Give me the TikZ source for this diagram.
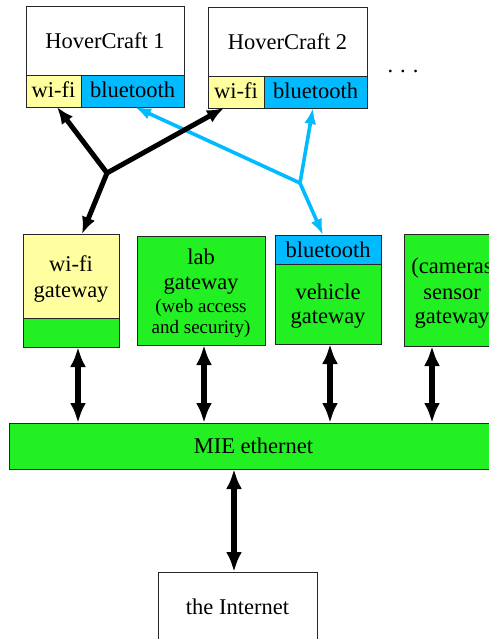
\documentclass[tikz,border=0pt]{standalone}
\usepackage{fontspec}
\setmainfont{Liberation Serif}
\newfontfamily\tms{Liberation Serif}
\usetikzlibrary{arrows.meta,calc}
\definecolor{wyel}{HTML}{FFFFA0}
\definecolor{ggreen}{HTML}{22F022}
\definecolor{bblue}{HTML}{00BBFF}
\begin{document}
\begin{tikzpicture}[x=1pt,y=-1pt,
 cell/.style={draw=black!85,line width=0.8pt,anchor=north west,inner sep=0pt,outer sep=0pt},
 lbl/.style={anchor=base,inner sep=0pt,font=\tms\fontsize{22.5}{26}\selectfont},
 slbl/.style={anchor=base,inner sep=0pt,font=\tms\fontsize{19}{22}\selectfont},
 blk/.style={line width=5pt,-{Latex[length=17pt,width=14pt]}},
 blu/.style={draw=bblue,line width=3.6pt,-{Latex[length=16pt,width=12pt]}},
 dbl/.style={line width=6pt,{Latex[length=20pt,width=16pt]}-{Latex[length=20pt,width=16pt]}}]
\useasboundingbox (0,0) rectangle (489,639);
\clip (0,0) rectangle (489,639);
% HoverCraft 1
\node[cell,fill=white,minimum width=158pt,minimum height=69pt] (hc1) at (26,6) {};
\node[cell,fill=wyel,minimum width=55pt,minimum height=32pt] (hc1w) at (26,75) {};
\node[cell,fill=bblue,minimum width=103pt,minimum height=32pt] (hc1b) at (81,75) {};
\node[lbl] (hc1t) at (105,49) {HoverCraft 1};
\node[lbl] (hc1wt) at (53.5,98) {wi-fi};
\node[lbl] (hc1bt) at (132.5,98) {bluetooth};
% HoverCraft 2
\node[cell,fill=white,minimum width=159pt,minimum height=69pt] (hc2) at (208,7) {};
\node[cell,fill=wyel,minimum width=56pt,minimum height=32pt] (hc2w) at (208,76) {};
\node[cell,fill=bblue,minimum width=103pt,minimum height=32pt] (hc2b) at (264,76) {};
\node[lbl] (hc2t) at (287.5,50) {HoverCraft 2};
\node[lbl] (hc2wt) at (236,99) {wi-fi};
\node[lbl] (hc2bt) at (315.5,99) {bluetooth};
\node[lbl] (dots) at (403,73) {.\hspace{7pt}.\hspace{7pt}.};
% wi-fi gateway
\node[cell,fill=wyel,minimum width=96pt,minimum height=84pt] (wgw) at (23,234) {};
\node[cell,fill=ggreen,minimum width=96pt,minimum height=29pt] (wgwg) at (23,318) {};
\node[lbl] (wgt1) at (71,271) {wi-fi};
\node[lbl] (wgt2) at (71,297) {gateway};
% lab gateway
\node[cell,fill=ggreen,minimum width=128pt,minimum height=109pt] (lgw) at (137,236) {};
\node[lbl] (lgt1) at (201,264) {lab};
\node[lbl] (lgt2) at (201,289) {gateway};
\node[slbl] (lgt3) at (201,312) {(web access};
\node[slbl] (lgt4) at (201,333) {and security)};
% vehicle gateway
\node[cell,fill=bblue,minimum width=106pt,minimum height=29pt] (vgb) at (275,235) {};
\node[cell,fill=ggreen,minimum width=106pt,minimum height=80pt] (vgw) at (275,264) {};
\node[lbl] (vgt0) at (328,257) {bluetooth};
\node[lbl] (vgt1) at (328,299) {vehicle};
\node[lbl] (vgt2) at (328,323) {gateway};
% sensor gateway
\node[cell,fill=ggreen,minimum width=96pt,minimum height=112pt] (sgw) at (404,234) {};
\node[lbl] (sgt1) at (452,273) {(cameras};
\node[lbl] (sgt2) at (452,299) {sensor};
\node[lbl] (sgt3) at (452,323) {gateway};
% ethernet
\node[cell,fill=ggreen,minimum width=489pt,minimum height=46pt] (eth) at (9,423) {};
\node[lbl] (etht) at (253.5,453) {MIE ethernet};
% internet
\node[cell,fill=white,minimum width=159pt,minimum height=90pt] (inet) at (158,572) {};
\node[lbl] (inett) at (237.5,614) {the Internet};
% wireless links
\coordinate (jw) at (107,173);
\coordinate (jb) at (300,183);
\draw[blu] (jb) -- ([xshift=2.5pt]hc1b.south);
\draw[blu] (jb) -- ([xshift=-2.5pt]hc2b.south);
\draw[blu] (jb) -- ([xshift=-5pt]vgb.north);
\draw[blk] (jw) -- ([xshift=3.5pt]hc1w.south);
\draw[blk] (jw) -- ([xshift=-12pt]hc2w.south);
\draw[blk] (jw) -- ([xshift=11pt]wgw.north);
% wired links
\draw[dbl] ([xshift=7pt]wgwg.south) -- ([xshift=7pt]wgwg.south |- eth.north);
\draw[dbl] ([xshift=3pt]lgw.south) -- ([xshift=3pt]lgw.south |- eth.north);
\draw[dbl] ([xshift=2pt]vgw.south) -- ([xshift=2pt]vgw.south |- eth.north);
\draw[dbl] ([xshift=-20pt]sgw.south) -- ([xshift=-20pt]sgw.south |- eth.north);
\draw[dbl] (eth.south -| 234,0) -- (inet.north -| 234,0);
\end{tikzpicture}
\end{document}
